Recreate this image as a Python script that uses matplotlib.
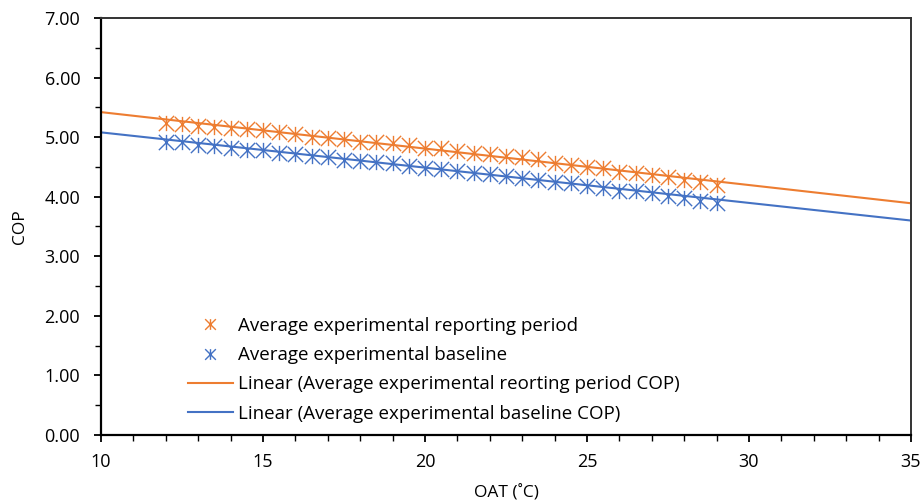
import numpy as np
import matplotlib
matplotlib.use("Agg")
import matplotlib.pyplot as plt
from matplotlib.path import Path
from matplotlib.ticker import MultipleLocator, FormatStrFormatter

# average COP per outdoor air temperature bin
oat = np.arange(12, 29.01, 0.5)
cop_reporting = [5.23, 5.22, 5.19, 5.17, 5.15, 5.14, 5.12, 5.09, 5.05, 5.00, 4.98, 4.97,
                 4.92, 4.92, 4.90, 4.86, 4.82, 4.81, 4.77, 4.74, 4.71, 4.69, 4.66, 4.63,
                 4.56, 4.54, 4.50, 4.49, 4.41, 4.39, 4.36, 4.33, 4.28, 4.25, 4.20]
cop_baseline = [4.92, 4.91, 4.87, 4.85, 4.81, 4.79, 4.78, 4.73, 4.71, 4.68, 4.66, 4.62,
                4.605, 4.58, 4.57, 4.52, 4.49, 4.47, 4.43, 4.40, 4.38, 4.34, 4.31, 4.285,
                4.25, 4.23, 4.18, 4.15, 4.10, 4.10, 4.06, 4.01, 3.97, 3.93, 3.90]

# linear trend lines, end values read at OAT 10 and 35
trend_oat = [10, 35]
trend_reporting = [5.42, 3.89]
trend_baseline = [5.08, 3.60]

orange = "#ED7D31"
blue = "#4472C4"

plt.rcParams['font.family'] = ['Open Sans', 'DejaVu Sans']

# excel style star marker: X with a vertical bar
star = Path([(0, -1), (0, 1), (-1, -1), (1, 1), (-1, 1), (1, -1)],
            [Path.MOVETO, Path.LINETO, Path.MOVETO, Path.LINETO, Path.MOVETO, Path.LINETO])

fig = plt.figure(figsize=(9.24, 5.04), dpi=100)
ax = fig.add_axes([0.1093, 0.1369, 0.8766, 0.8274])

ax.plot(oat, cop_reporting, linestyle='none', marker=star, markersize=11,
        markeredgecolor=orange, markeredgewidth=1.0, label='Average experimental reporting period')
ax.plot(oat, cop_baseline, linestyle='none', marker=star, markersize=11,
        markeredgecolor=blue, markeredgewidth=1.0, label='Average experimental baseline')
ax.plot(trend_oat, trend_reporting, color=orange, lw=1.5,
        label='Linear (Average experimental reorting period COP)')
ax.plot(trend_oat, trend_baseline, color=blue, lw=1.5,
        label='Linear (Average experimental baseline COP)')

ax.set_xlim(10, 35)
ax.set_ylim(0, 7)
ax.xaxis.set_major_locator(MultipleLocator(5))
ax.xaxis.set_minor_locator(MultipleLocator(1))
ax.yaxis.set_major_locator(MultipleLocator(1))
ax.yaxis.set_minor_locator(MultipleLocator(0.5))
ax.yaxis.set_major_formatter(FormatStrFormatter('%.2f'))
ax.tick_params(which='major', direction='out', length=5, width=1.3, labelsize=13, colors='black')
ax.tick_params(which='minor', direction='out', length=4, width=1.0)
ax.tick_params(axis='x', pad=8)
ax.tick_params(axis='y', pad=10)

for side in ['left', 'bottom']:
    ax.spines[side].set_linewidth(1.6)
for side in ['top', 'right']:
    ax.spines[side].set_linewidth(1.4)
    ax.spines[side].set_color('#333333')

ax.set_xlabel('OAT (˚C)', fontsize=12.5, labelpad=10)
ax.set_ylabel('COP', fontsize=12.5, labelpad=12)

leg = ax.legend(loc='upper left', bbox_to_anchor=(0.107, 0.283), frameon=False,
                fontsize=13.5, handlelength=2.4, handletextpad=0.3, labelspacing=0.6,
                borderpad=0, borderaxespad=0, markerscale=0.7)

fig.savefig('out.png', dpi=100)
